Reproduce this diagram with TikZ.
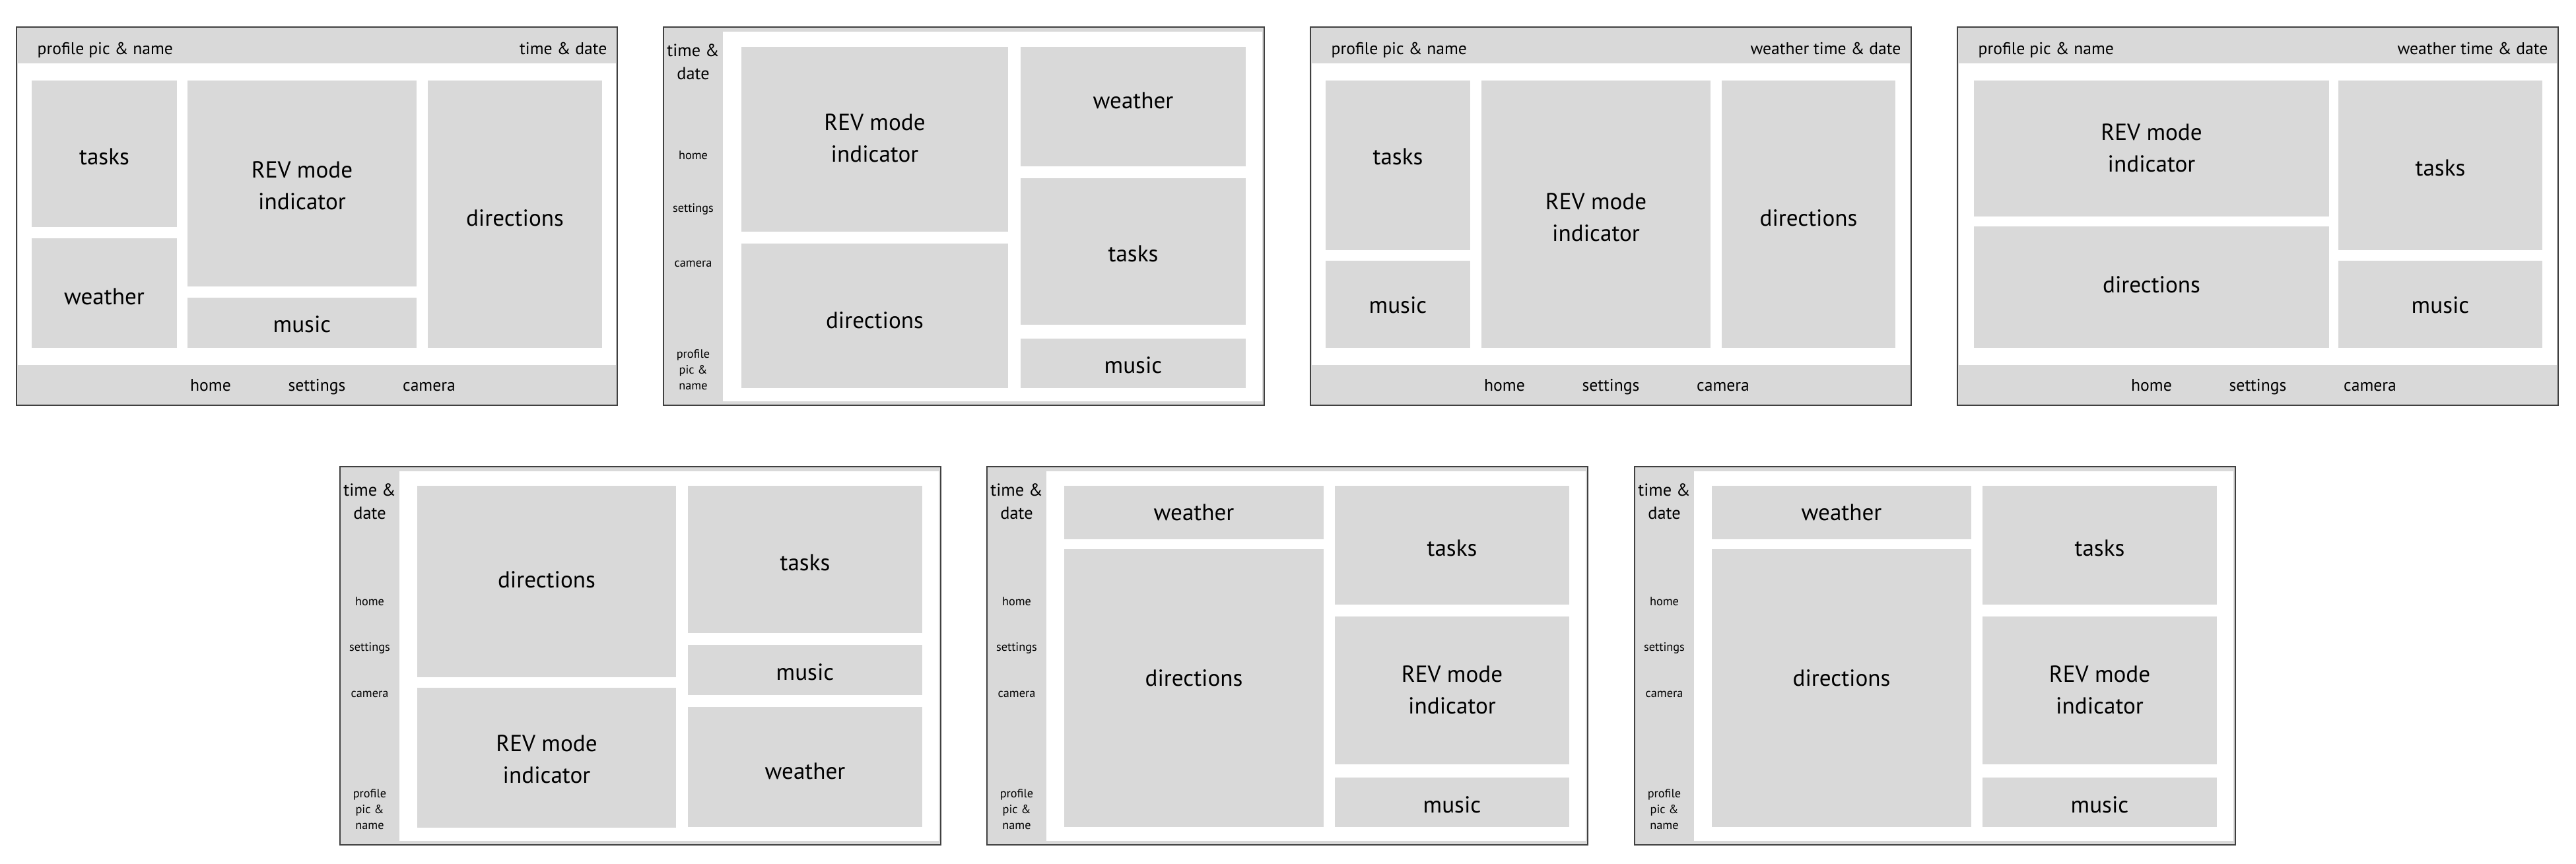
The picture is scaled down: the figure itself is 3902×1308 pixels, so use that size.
\documentclass[tikz,border=0pt]{standalone}
\usepackage{fontspec}
\setmainfont{PT Sans}

\definecolor{wiregray}{HTML}{D9D9D9}
\definecolor{framegray}{HTML}{404040}

\tikzset{
  tilebox/.style={fill=wiregray},
  lbl/.style={font=\fontsize{10}{13.7}\selectfont, align=center, inner sep=0pt},
  barlbl/.style={font=\fontsize{7.3}{9}\selectfont, inner sep=0pt, anchor=base},
  sidetitle/.style={font=\fontsize{7.5}{10}\selectfont, align=center, inner sep=0pt},
  sidelbl/.style={font=\fontsize{5.2}{6.8}\selectfont, align=center, inner sep=0pt},
  screen/.style={draw=framegray, line width=0.6pt},
}

% one grey tile, label centred in x at height #5
\newcommand{\tile}[7]{%
  \fill[tilebox] (#1,#2) rectangle (#3,#4);
  \node[lbl] (#6) at ({(#1+#3)/2},#5) {#7};}

% screen with a top bar and a bottom nav bar
\newcommand{\barscreen}[2]{%
  \fill[wiregray] (0,0) rectangle (910,573);
  \fill[white] (2,55) rectangle (908,512);
  \draw[screen] (0,0) rectangle (910,573);
  \node[barlbl, anchor=base west] (#1prof) at (31,41) {profile pic \& name};
  \node[barlbl, anchor=base east] (#1time) at (895,41) {#2};
  \node[barlbl] (#1home) at (294,551) {home};
  \node[barlbl] (#1set) at (455,551) {settings};
  \node[barlbl] (#1cam) at (625,551) {camera};}

% screen with a nav bar on the left
\newcommand{\sidescreen}[4]{%
  \fill[wiregray] (0,0) rectangle (910,573);
  \fill[white] (90,6.5) rectangle (907,567);
  \draw[screen] (0,0) rectangle (910,573);
  \node[sidetitle] (#1time) at (45,53) {time \&\\date};
  \node[sidelbl] (#1home) at (45,#2) {home};
  \node[sidelbl] (#1set) at (45,#3) {settings};
  \node[sidelbl] (#1cam) at (45,#4) {camera};
  \node[sidelbl] (#1prof) at (45,519) {profile\\pic \&\\name};}

\begin{document}
\begin{tikzpicture}[x=0.01cm, y=-0.01cm]
  \useasboundingbox (0,0) rectangle (3902,1308);

  % top row
  \begin{scope}[shift={(25,41)}]
    \barscreen{p1}{time \& date}
    \tile{23}{81}{243}{303}{196}{p1tasks}{tasks}
    \tile{23}{320}{243}{486}{408}{p1weather}{weather}
    \tile{259}{81}{606}{393}{240}{p1rev}{REV mode\\indicator}
    \tile{259}{410}{606}{486}{450}{p1music}{music}
    \tile{623}{81}{887}{486}{289}{p1dir}{directions}
  \end{scope}

  \begin{scope}[shift={(1005,41)}]
    \sidescreen{p2}{194}{276}{359}
    \tile{118}{30}{522}{310}{168}{p2rev}{REV mode\\indicator}
    \tile{118}{328}{522}{547}{444}{p2dir}{directions}
    \tile{541}{30}{882}{211}{111}{p2weather}{weather}
    \tile{541}{229}{882}{451}{343}{p2tasks}{tasks}
    \tile{541}{472}{882}{547}{512}{p2music}{music}
  \end{scope}

  \begin{scope}[shift={(1985,41)}]
    \barscreen{p3}{weather time \& date}
    \tile{23}{81}{242}{338}{196}{p3tasks}{tasks}
    \tile{23}{354}{242}{486}{421}{p3music}{music}
    \tile{259}{81}{606}{486}{288}{p3rev}{REV mode\\indicator}
    \tile{623}{81}{886}{486}{289}{p3dir}{directions}
  \end{scope}

  \begin{scope}[shift={(2965,41)}]
    \barscreen{p4}{weather time \& date}
    \tile{25}{81}{563}{287}{183}{p4rev}{REV mode\\indicator}
    \tile{25}{302}{563}{486}{390}{p4dir}{directions}
    \tile{577}{81}{886}{338}{213}{p4tasks}{tasks}
    \tile{577}{354}{886}{486}{421}{p4music}{music}
  \end{scope}

  % bottom row
  \begin{scope}[shift={(515,707)}]
    \sidescreen{p5}{204}{275}{345}
    \tile{117}{29}{509}{319}{171}{p5dir}{directions}
    \tile{117}{335}{509}{547}{443}{p5rev}{REV mode\\indicator}
    \tile{527}{29}{882}{252}{145}{p5tasks}{tasks}
    \tile{527}{270}{882}{346}{311}{p5music}{music}
    \tile{527}{364}{882}{546}{461}{p5weather}{weather}
  \end{scope}

  \begin{scope}[shift={(1495,707)}]
    \sidescreen{p6}{204}{275}{345}
    \tile{117}{29}{510}{110}{69}{p6weather}{weather}
    \tile{117}{125}{510}{546}{320}{p6dir}{directions}
    \tile{527}{29}{882}{209}{123}{p6tasks}{tasks}
    \tile{527}{227}{882}{451}{338}{p6rev}{REV mode\\indicator}
    \tile{527}{471}{882}{546}{512}{p6music}{music}
  \end{scope}

  \begin{scope}[shift={(2476,707)}]
    \sidescreen{p7}{204}{275}{345}
    \tile{117}{29}{510}{110}{69}{p7weather}{weather}
    \tile{117}{125}{510}{546}{320}{p7dir}{directions}
    \tile{527}{29}{882}{209}{123}{p7tasks}{tasks}
    \tile{527}{227}{882}{451}{338}{p7rev}{REV mode\\indicator}
    \tile{527}{471}{882}{546}{512}{p7music}{music}
  \end{scope}
\end{tikzpicture}
\end{document}
